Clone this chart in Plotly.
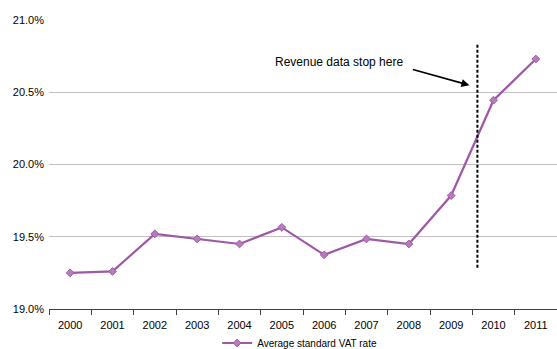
import plotly.graph_objects as go

years = ["2000", "2001", "2002", "2003", "2004", "2005", "2006", "2007", "2008", "2009", "2010", "2011"]
vat_rate = [19.25, 19.26, 19.52, 19.485, 19.45, 19.565, 19.375, 19.485, 19.45, 19.785, 20.445, 20.73]
y_ticks = [19.0, 19.5, 20.0, 20.5, 21.0]
y_tick_labels = ["19.0%", "19.5%", "20.0%", "20.5%", "21.0%"]

cutoff_x = 9.62
cutoff_y = [19.285, 20.83]

purple = "#9E58A6"

fig = go.Figure()
fig.add_trace(go.Scatter(
    x=years, y=vat_rate, mode="lines+markers",
    name="Average standard VAT rate",
    line=dict(color=purple, width=2.2),
    marker=dict(symbol="diamond", size=6, color="#B57DBB", line=dict(color=purple, width=1)),
))

fig.add_shape(type="line", xref="x", yref="y", x0=cutoff_x, x1=cutoff_x,
              y0=cutoff_y[0], y1=cutoff_y[1],
              line=dict(color="black", width=2, dash="3px,2px"))

fig.add_annotation(x=9.43, y=20.549, ax=8.06, ay=20.66, xref="x", yref="y",
                   axref="x", ayref="y", text="", showarrow=True,
                   arrowhead=2, arrowsize=1, arrowwidth=1.6, arrowcolor="black")
fig.add_annotation(x=6.36, y=20.708, xref="x", yref="y", text="Revenue data stop here",
                   showarrow=False, font=dict(family="Liberation Sans, Arial", size=12, color="black"))

fig.update_layout(
    width=557, height=349,
    margin=dict(l=49, r=0, t=20, b=40),
    plot_bgcolor="white", paper_bgcolor="white",
    font=dict(family="Liberation Sans, Arial", size=11, color="black"),
    showlegend=True,
    legend=dict(orientation="h", x=0.538, xanchor="center", xref="container",
                y=6 / 349, yanchor="middle", yref="container",
                bgcolor="rgba(0,0,0,0)",
                font=dict(size=10), itemwidth=30),
    xaxis=dict(type="category", tickson="boundaries", range=[-0.5, 11.5],
               showline=True, linecolor="#404040", linewidth=1,
               ticks="outside", ticklen=5, tickcolor="#404040",
               ticklabelstandoff=6, automargin=False,
               showgrid=False, tickfont=dict(size=11)),
    yaxis=dict(range=[19.0, 21.0], tickvals=y_ticks, ticktext=y_tick_labels,
               showgrid=True, gridcolor="#C0C0C0", gridwidth=1,
               zeroline=False, showline=False, ticks="", ticklabelstandoff=4,
               automargin=False, tickfont=dict(size=11)),
)

fig.write_html("out.html")
